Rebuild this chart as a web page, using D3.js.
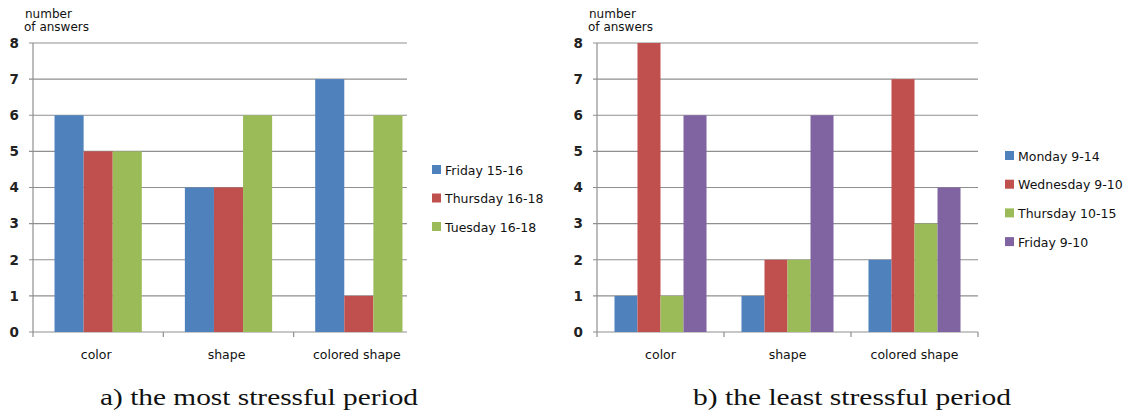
<!DOCTYPE html>
<html><head><meta charset="utf-8">
<script src="https://cdn.jsdelivr.net/npm/d3@7"></script>
<style>body{margin:0;background:#fff}svg{display:block}</style>
</head><body>
<svg id="c" width="1132" height="414"></svg>
<script>
const categories = ["color", "shape", "colored shape"];
const yTicks = [0,1,2,3,4,5,6,7,8];

const seriesA = ["Friday 15-16", "Thursday 16-18", "Tuesday 16-18"];
const friday1516 = [6, 4, 7];
const thursday1618 = [5, 4, 1];
const tuesday1618 = [5, 6, 6];

const seriesB = ["Monday 9-14", "Wednesday 9-10", "Thursday 10-15", "Friday 9-10"];
const monday914 = [1, 1, 2];
const wednesday910 = [8, 2, 7];
const thursday1015 = [1, 2, 3];
const friday910 = [6, 6, 4];

const captionA = "a) the most stressful period";
const captionB = "b) the least stressful period";
const yTitle = ["number", "of answers"];

const colors = ["#4F81BD", "#C0504D", "#9BBB59", "#8064A2"];

const svg = d3.select("#c");
const font = "DejaVu Sans";

function chart(cfg) {
  const g = svg.append("g");
  const y = d3.scaleLinear().domain([0, 8]).range([332, 43]);
  const x = d3.scaleBand().domain(categories).range([cfg.left, cfg.bandEnd]).padding(0);
  const xi = d3.scaleBand().domain(cfg.series).range([0, x.bandwidth()]).paddingInner(0).paddingOuter(cfg.outer);

  const clipId = "clip" + cfg.id;
  svg.append("clipPath").attr("id", clipId).append("rect")
    .attr("x", cfg.left).attr("y", 0).attr("width", cfg.right - cfg.left).attr("height", 340);

  g.selectAll(".grid").data(yTicks).join("line")
    .attr("x1", cfg.left - 4).attr("x2", cfg.right)
    .attr("y1", d => y(d)).attr("y2", d => y(d))
    .attr("stroke", "#8f8f8f").attr("stroke-width", 1.2);
  g.append("line").attr("x1", cfg.left).attr("x2", cfg.left)
    .attr("y1", y(8)).attr("y2", y(0)).attr("stroke", "#8f8f8f").attr("stroke-width", 1.2);
  const tickXs = categories.map(c => x(c)).concat([cfg.bandEnd]).filter(v => v <= cfg.right + 1);
  g.selectAll(".xt").data(tickXs).join("line")
    .attr("x1", d => d).attr("x2", d => d).attr("y1", y(0)).attr("y2", y(0) + 5)
    .attr("stroke", "#8f8f8f").attr("stroke-width", 1.2);

  const bars = g.append("g").attr("clip-path", `url(#${clipId})`);
  cfg.series.forEach((s, si) => {
    bars.selectAll(".b" + si).data(cfg.values[si]).join("rect")
      .attr("x", (d, i) => x(categories[i]) + xi(s))
      .attr("width", xi.bandwidth())
      .attr("y", d => y(d))
      .attr("height", d => y(0) - y(d))
      .attr("fill", colors[si]);
  });

  g.selectAll(".yl").data(yTicks).join("text")
    .attr("x", cfg.left - 14).attr("y", d => y(d)).attr("dy", "0.36em")
    .attr("text-anchor", "end").attr("font-family", font).attr("font-size", 13.5)
    .attr("font-weight", 600).attr("fill", "#222").text(d => d);

  g.selectAll(".yt").data(yTitle).join("text")
    .attr("x", (d, i) => cfg.left - 8 - i * 1).attr("y", (d, i) => 18 + i * 13)
    .attr("font-family", font).attr("font-size", 12).attr("fill", "#111").text(d => d);

  g.selectAll(".cl").data(categories).join("text")
    .attr("x", d => x(d) + x.bandwidth() / 2 + cfg.labelShift).attr("y", 359)
    .attr("text-anchor", "middle").attr("font-family", font).attr("font-size", 12.5)
    .attr("fill", "#111").text(d => d);

  const lg = g.append("g");
  cfg.series.forEach((s, si) => {
    lg.append("rect").attr("x", cfg.legX).attr("y", cfg.legY + si * cfg.legStep - 5)
      .attr("width", 9).attr("height", 9).attr("fill", colors[si]);
    lg.append("text").attr("x", cfg.legX + 13).attr("y", cfg.legY + si * cfg.legStep)
      .attr("dy", "0.36em").attr("font-family", font).attr("font-size", 12.5)
      .attr("fill", "#111").text(s);
  });

  g.append("text").attr("x", cfg.capX).attr("y", 405).attr("text-anchor", "middle")
    .attr("font-family", "Liberation Serif").attr("font-size", 23)
    .attr("textLength", cfg.capW).attr("lengthAdjust", "spacingAndGlyphs")
    .attr("fill", "#111").text(cfg.caption);
}

chart({ id: "a", left: 33, right: 407, bandEnd: 424, outer: 0.74, labelShift: -2,
  series: seriesA, values: [friday1516, thursday1618, tuesday1618],
  legX: 432, legY: 170, legStep: 28.5, capX: 259, capW: 318, caption: captionA });

chart({ id: "b", left: 597, right: 978, bandEnd: 978, outer: 0.76, labelShift: 0,
  series: seriesB, values: [monday914, wednesday910, thursday1015, friday910],
  legX: 1005, legY: 156, legStep: 28.7, capX: 852, capW: 318, caption: captionB });
</script>
</body></html>
